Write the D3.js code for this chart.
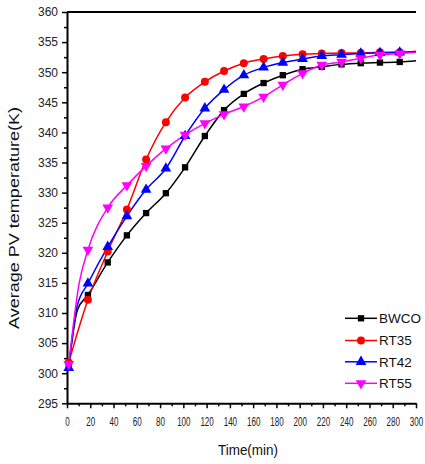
<!DOCTYPE html>
<html><head><meta charset="utf-8">
<script src="https://cdn.jsdelivr.net/npm/d3@7"></script>
<style>body{margin:0;background:#fff;} text{font-family:"Liberation Sans",Arial,sans-serif;}</style>
</head><body><svg id="c" width="425" height="464"></svg>
<script>
const times = [1.5, 18, 35, 51.5, 68, 85, 101.5, 118.5, 135, 152, 169, 185.5, 202.5, 219, 236, 252.5, 269, 286];
const seriesNames = ["BWCO", "RT35", "RT42", "RT55"];
const bwco = [301.2, 313.0, 318.4, 322.9, 326.6, 329.9, 334.2, 339.4, 343.7, 346.4, 348.2, 349.5, 350.5, 350.9, 351.3, 351.5, 351.6, 351.7];
const rt35 = [301.8, 312.2, 320.2, 327.2, 335.5, 341.7, 345.8, 348.4, 350.2, 351.5, 352.2, 352.7, 353.0, 353.1, 353.2, 353.2, 353.3, 353.3];
const rt42 = [300.9, 314.9, 321.0, 326.1, 330.5, 334.0, 339.4, 344.0, 347.1, 349.5, 350.8, 351.6, 352.2, 352.7, 352.9, 353.1, 353.2, 353.3];
const rt55 = [301.5, 320.5, 327.5, 331.2, 334.4, 337.3, 339.6, 341.5, 343.0, 344.3, 345.9, 347.9, 349.8, 351.2, 351.7, 352.3, 352.9, 353.1];
// line-only points: knee of the steep start, and value at the 300 min edge
const kneeTimes = [9, null, 8.5, 10.5];
const kneeValues = [310.5, null, 311.0, 315.0];
const endTime = 300;
const endValues = [351.9, 353.5, 353.4, 353.3];
const xTicks = [0, 20, 40, 60, 80, 100, 120, 140, 160, 180, 200, 220, 240, 260, 280, 300];
const xMinor = [10, 30, 50, 70, 90, 110, 130, 150, 170, 190, 210, 230, 250, 270, 290];
const yTicks = [295, 300, 305, 310, 315, 320, 325, 330, 335, 340, 345, 350, 355, 360];
const yMinor = [297.5, 302.5, 307.5, 312.5, 317.5, 322.5, 327.5, 332.5, 337.5, 342.5, 347.5, 352.5, 357.5];

const colors = ["#000000", "#ff0000", "#0000ff", "#ff00ff"];
const symbols = [d3.symbolSquare, d3.symbolCircle, d3.symbolTriangle, d3.symbolTriangle];
const symSizes = [40, 50, 50, 50];
const rotations = [0, 0, 0, 180];
const values = [bwco, rt35, rt42, rt55];

const svg = d3.select("#c");
const x = d3.scaleLinear().domain([0, 300]).range([67, 416]);
const y = d3.scaleLinear().domain([295, 360]).range([403.3, 12]);

function styleAxis(g, w) {
  g.select(".domain").attr("stroke", "#000").attr("stroke-width", w);
  g.selectAll(".tick line").attr("stroke", "#000").attr("stroke-width", 1.5);
  g.selectAll(".tick text").attr("fill", "#222")
   .style("font-family", "'Liberation Sans', Arial, sans-serif");
}
const gx = svg.append("g").attr("transform", `translate(0,${y(295)})`)
  .call(d3.axisBottom(x).tickValues(xTicks).tickSize(5).tickSizeOuter(0).tickPadding(8).tickFormat(d3.format("d")));
styleAxis(gx, 2);
gx.selectAll(".tick text").style("font-size", "13px").attr("transform", "scale(0.62,1)");
const gxm = svg.append("g").attr("transform", `translate(0,${y(295)})`)
  .call(d3.axisBottom(x).tickValues(xMinor).tickSize(3).tickSizeOuter(0).tickFormat(""));
gxm.select(".domain").remove();
gxm.selectAll(".tick line").attr("stroke", "#000").attr("stroke-width", 1.5);

const gy = svg.append("g").attr("transform", `translate(${x(0)},0)`)
  .call(d3.axisLeft(y).tickValues(yTicks).tickSize(5).tickSizeOuter(0).tickPadding(4).tickFormat(d3.format("d")));
styleAxis(gy, 2);
gy.selectAll(".tick text").style("font-size", "12px");
const gym = svg.append("g").attr("transform", `translate(${x(0)},0)`)
  .call(d3.axisLeft(y).tickValues(yMinor).tickSize(3).tickSizeOuter(0).tickFormat(""));
gym.select(".domain").remove();
gym.selectAll(".tick line").attr("stroke", "#000").attr("stroke-width", 1.5);

// top frame line
svg.append("line").attr("x1", x(0)).attr("x2", x(300)).attr("y1", y(360)).attr("y2", y(360))
  .attr("stroke", "#000").attr("stroke-width", 2);

// series
const line = d3.line().x(d => x(d[0])).y(d => y(d[1])).curve(d3.curveMonotoneX);
values.forEach((vals, i) => {
  const pts = times.map((t, k) => [t, vals[k]]);
  if (kneeTimes[i] !== null) pts.splice(1, 0, [kneeTimes[i], kneeValues[i]]);
  pts.push([endTime, endValues[i]]);
  svg.append("path").datum(pts).attr("d", line).attr("fill", "none")
    .attr("stroke", colors[i]).attr("stroke-width", 1.5);
});
values.forEach((vals, i) => {
  svg.append("g").selectAll("path").data(times.map((t, k) => [t, vals[k]])).join("path")
    .attr("d", d3.symbol().type(symbols[i]).size(symSizes[i]))
    .attr("transform", d => `translate(${x(d[0])},${y(d[1])}) rotate(${rotations[i]})`)
    .attr("fill", colors[i]);
});

// axis titles
svg.append("text").attr("x", 248).attr("y", 455).attr("text-anchor", "middle")
  .style("font-size", "14px").attr("fill", "#111")
  .attr("textLength", 60).attr("lengthAdjust", "spacingAndGlyphs").text("Time(min)");
svg.append("text").attr("transform", "translate(19,218) rotate(-90)").attr("text-anchor", "middle")
  .style("font-size", "15px").attr("fill", "#111")
  .attr("textLength", 222).attr("lengthAdjust", "spacingAndGlyphs")
  .text("Average PV temperature(K)");

// legend
const legY = [318.3, 340.5, 361.8, 383.3];
seriesNames.forEach((n, i) => {
  const g = svg.append("g").attr("transform", `translate(0,${legY[i]})`);
  g.append("line").attr("x1", 345).attr("x2", 377).attr("stroke", colors[i]).attr("stroke-width", 1.5);
  g.append("path").attr("d", d3.symbol().type(symbols[i]).size(symSizes[i]))
    .attr("transform", `translate(361,0) rotate(${rotations[i]})`).attr("fill", colors[i]);
  g.append("text").attr("x", 379).attr("y", 0).attr("dy", "0.36em")
    .style("font-size", "13.5px").attr("fill", "#111").text(n);
});
</script></body></html>
